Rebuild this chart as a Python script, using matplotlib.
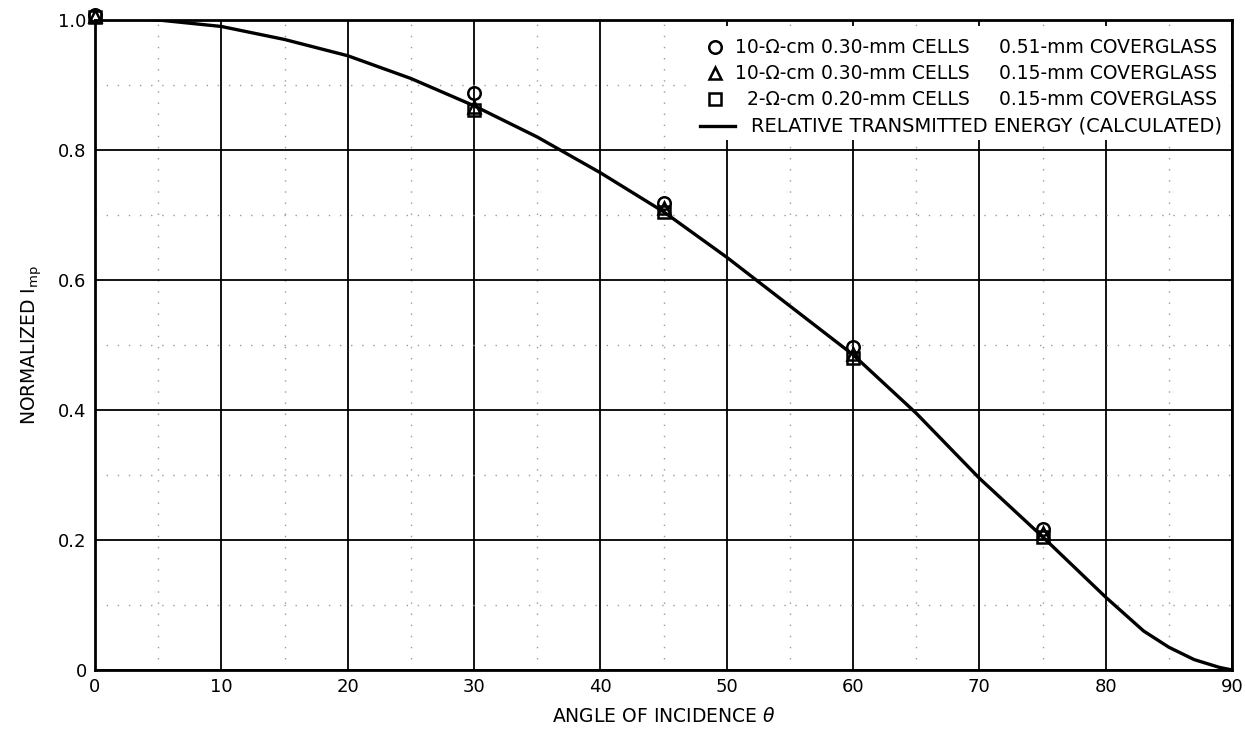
import numpy as np
import matplotlib.pyplot as plt
from matplotlib.patches import Rectangle

# Odczytane wartości z wykresu
kat_krzywa = [0, 5, 10, 15, 20, 25, 30, 35, 40, 45, 50, 55, 60, 65, 70, 75, 80, 83, 85, 87, 89, 90]
energia = [1.005, 1.0, 0.99, 0.97, 0.945, 0.91, 0.868, 0.82, 0.765, 0.705, 0.635, 0.56,
           0.485, 0.395, 0.295, 0.205, 0.112, 0.06, 0.035, 0.016, 0.004, 0.0]

kat_pomiar = [0, 30, 45, 60, 75]
kolo = [1.008, 0.888, 0.718, 0.497, 0.217]
trojkat = [1.006, 0.866, 0.71, 0.486, 0.21]
kwadrat = [1.005, 0.862, 0.704, 0.48, 0.205]

etykiety_ogniwa = ['10-\u03a9-cm 0.30-mm CELLS', '10-\u03a9-cm 0.30-mm CELLS', '  2-\u03a9-cm 0.20-mm CELLS']
etykiety_szkla = ['0.51-mm COVERGLASS', '0.15-mm COVERGLASS', '0.15-mm COVERGLASS']
etykieta_krzywej = 'RELATIVE TRANSMITTED ENERGY (CALCULATED)'

plt.rcParams['font.family'] = ['DejaVu Sans']

fig = plt.figure(figsize=(12.45, 7.34), dpi=100)
ax = fig.add_axes([0.0763, 0.0872, 0.9133, 0.8856])

ax.set_xlim(0, 90)
ax.set_ylim(0, 1.0)
ax.set_xticks(np.arange(0, 91, 10))
ax.set_yticks([0, 0.2, 0.4, 0.6, 0.8, 1.0])
ax.set_yticklabels(['0', '0.2', '0.4', '0.6', '0.8', '1.0'])
ax.set_xticks(np.arange(5, 90, 10), minor=True)
ax.set_yticks(np.arange(0.1, 1.0, 0.2), minor=True)
ax.tick_params(which='both', length=0, labelsize=13, pad=6)

ax.grid(True, which='major', color='black', linewidth=1.3)
ax.grid(True, which='minor', color='#9a9a9a', linewidth=1.0, linestyle=(0, (1, 7)))
ax.set_axisbelow(True)
for s in ax.spines.values():
    s.set_linewidth(2)

ax.plot(kat_krzywa, energia, color='black', linewidth=2.4, zorder=3)

styl = dict(linestyle='none', markerfacecolor='none', markeredgecolor='black',
            markeredgewidth=1.8, markersize=9, clip_on=False)
ax.plot(kat_pomiar, kolo, marker='o', zorder=4, **styl)
ax.plot(kat_pomiar, trojkat, marker='^', zorder=4, **styl)
ax.plot(kat_pomiar, kwadrat, marker='s', zorder=4, **styl)

# Legenda rysowana ręcznie (dwie kolumny tekstu)
ax.add_patch(Rectangle((0.525, 0.815), 0.473, 0.175, transform=ax.transAxes,
                       facecolor='white', edgecolor='none', zorder=5))
wiersze_y = [0.958, 0.918, 0.878, 0.837]
for m, y, t1, t2 in zip(['o', '^', 's'], wiersze_y, etykiety_ogniwa, etykiety_szkla):
    ax.plot([0.545], [y], marker=m, transform=ax.transAxes, zorder=7, **styl)
    ax.text(0.563, y, t1, transform=ax.transAxes, fontsize=13.5, va='center', zorder=6)
    ax.text(0.795, y, t2, transform=ax.transAxes, fontsize=13.5, va='center', zorder=6)
ax.plot([0.532, 0.563], [wiersze_y[3]] * 2, color='black', linewidth=2.4,
        transform=ax.transAxes, zorder=6)
ax.text(0.577, wiersze_y[3], etykieta_krzywej, transform=ax.transAxes,
        fontsize=14, va='center', zorder=6)

ax.set_xlabel('ANGLE OF INCIDENCE $\\theta$', fontsize=13.5, labelpad=8)
ax.set_ylabel('NORMALIZED I$_{\\mathregular{mp}}$', fontsize=13.5, labelpad=10)

fig.savefig('out.png', dpi=100)
